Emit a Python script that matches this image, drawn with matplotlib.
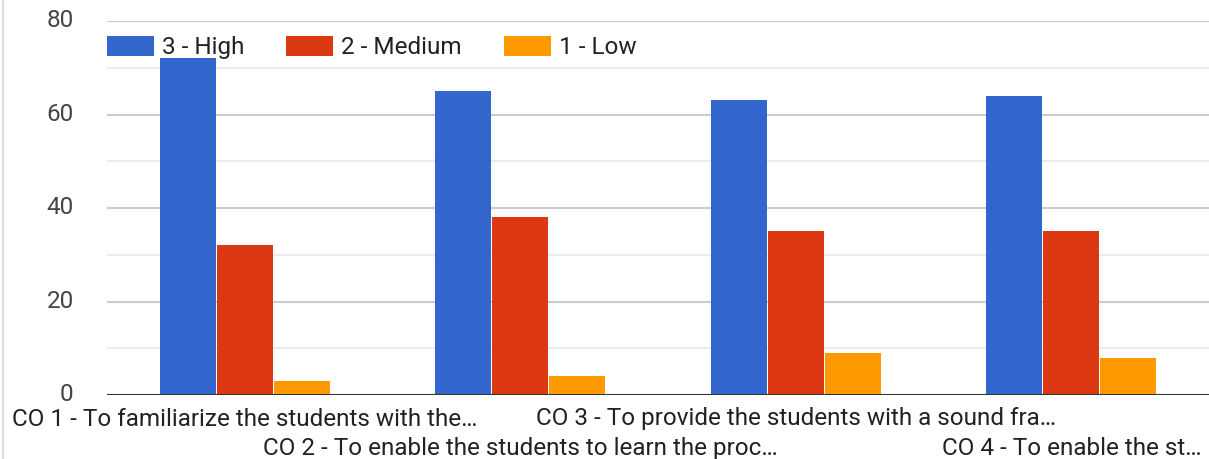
import matplotlib.pyplot as plt
import matplotlib.transforms as mtransforms
import numpy as np
from matplotlib.lines import Line2D

plt.rcParams['font.family'] = ['Roboto', 'DejaVu Sans']

# Données
categories = [
    "CO 1 - To familiarize the students with the\u2026",
    "CO 2 - To enable the students to learn the proc\u2026",
    "CO 3 - To provide the students with a sound fra\u2026",
    "CO 4 - To enable the st\u2026",
]
high = [72, 65, 63, 64]
medium = [32, 38, 35, 35]
low = [3, 4, 9, 8]
series_names = ["3 - High", "2 - Medium", "1 - Low"]
colors = ["#3366cc", "#dc3912", "#ff9900"]

fs = 17.5

fig = plt.figure(figsize=(12.09, 4.59), dpi=100)
ax = fig.add_axes([107 / 1209, 1 - 395 / 459, 1 - 107 / 1209, (395 - 21) / 459])

x = np.arange(len(categories))
w = 0.204
for i, (vals, name, c) in enumerate(zip([high, medium, low], series_names, colors)):
    ax.bar(x + (i - 1) * (w + 0.003), vals, width=w, color=c, label=name, zorder=3)

ax.set_xlim(-0.5, 3.5)
ax.set_ylim(0, 80)
ax.set_yticks([0, 20, 40, 60, 80])
ax.set_yticks([10, 30, 50, 70], minor=True)
ax.grid(axis="y", which="major", color="#cccccc", linewidth=1.5, zorder=0)
ax.grid(axis="y", which="minor", color="#ebebeb", linewidth=1.5, zorder=0)
ax.axhline(0, color="#333333", linewidth=2.2, zorder=4)

for s in ax.spines.values():
    s.set_visible(False)

# étiquettes en quinconce : 1re rangée en ticks majeurs, 2e rangée en ticks mineurs
ax.set_xticks(x[::2])
ax.set_xticklabels(categories[::2], fontsize=fs, color="#222222")
ax.set_xticks(x[1::2], minor=True)
ax.set_xticklabels(categories[1::2], minor=True, fontsize=fs, color="#222222")
ax.tick_params(axis="x", which="major", length=0, pad=9)
ax.tick_params(axis="x", which="minor", length=0, pad=30)
ax.tick_params(axis="y", which="both", length=0, pad=24, labelsize=fs, labelcolor="#444444")

# petit décalage vers le haut des libellés Y pour ne pas toucher la 1re rangée
offset = mtransforms.ScaledTranslation(0, 2 / 72, fig.dpi_scale_trans)
for lab in ax.get_yticklabels():
    lab.set_transform(lab.get_transform() + offset)

ax.legend(loc="upper left", bbox_to_anchor=(0.0, 0.96), ncol=3, frameon=False,
          fontsize=fs, handlelength=1.93, handleheight=0.9, columnspacing=1.73,
          handletextpad=0.33, borderpad=0, borderaxespad=0, labelcolor="#222222")

fig.add_artist(Line2D([3 / 1209, 3 / 1209], [0, 1], color="#dddddd", linewidth=1.5))

plt.savefig("out.png", dpi=100)
